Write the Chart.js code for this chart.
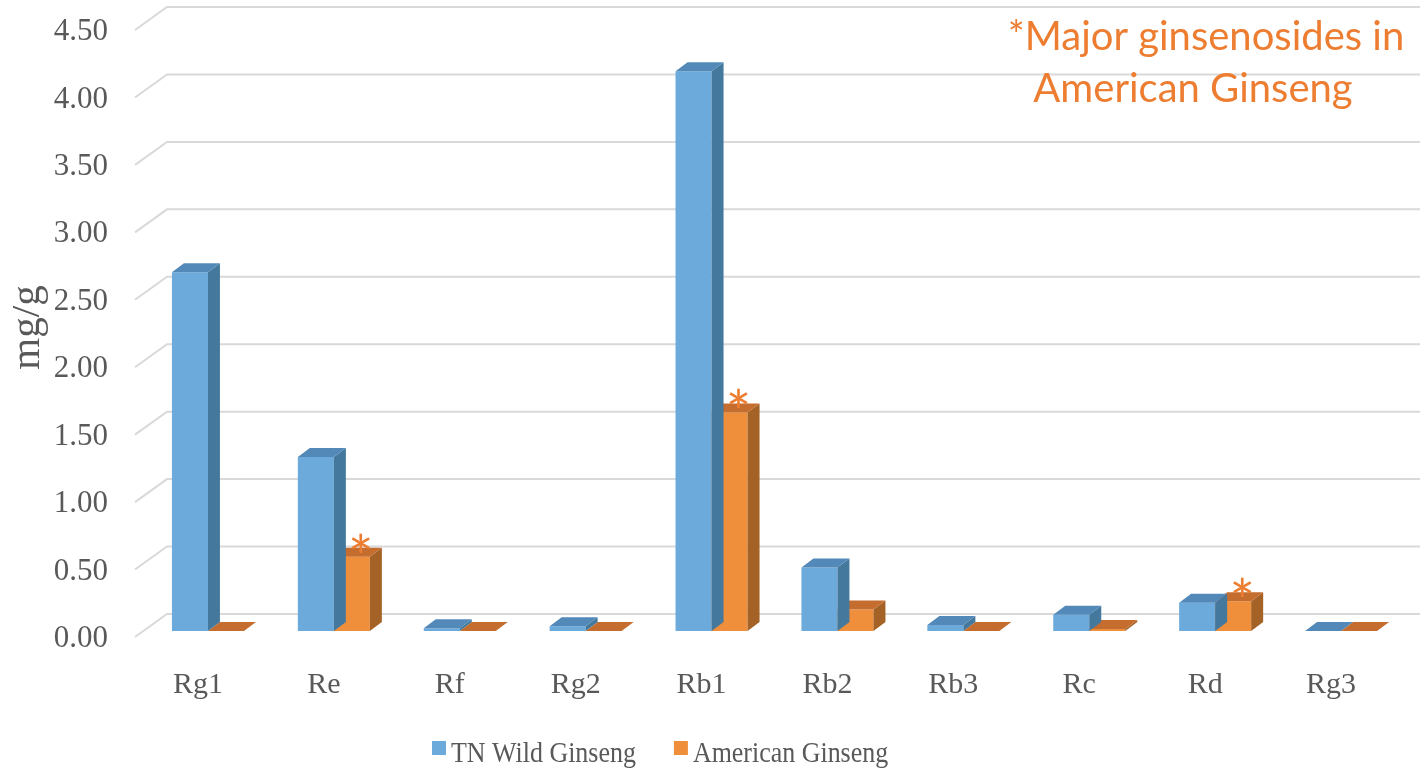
<!DOCTYPE html>
<html>
<head>
<meta charset="utf-8">
<script src="https://cdn.jsdelivr.net/npm/chart.js@4.4.1/dist/chart.umd.min.js"></script>
<style>
  html, body { margin: 0; padding: 0; background: #fff; }
  #wrap { width: 1428px; height: 768px; }
</style>
</head>
<body>
<div id="wrap"><canvas id="ginsengChart"></canvas></div>
<script>
// data (mg/g)
const categories = ['Rg1', 'Re', 'Rf', 'Rg2', 'Rb1', 'Rb2', 'Rb3', 'Rc', 'Rd', 'Rg3'];
const wildValues = [2.66, 1.29, 0.02, 0.035, 4.15, 0.47, 0.045, 0.12, 0.21, 0.00];
const americanValues = [0.00, 0.55, 0.00, 0.00, 1.62, 0.16, 0.00, 0.015, 0.22, 0.00];
const seriesNames = ['TN Wild Ginseng', 'American Ginseng'];
const majorInAmerican = ['Re', 'Rb1', 'Rd'];
const noteLines = ['*Major ginsenosides in', 'American Ginseng'];
const yTickValues = [0, 0.5, 1, 1.5, 2, 2.5, 3, 3.5, 4, 4.5];

// colours: front, top, side
const frontColors = ['#6BAADA', '#EF8F3B'];
const topColors = ['#5289B8', '#C56D2E'];
const sideColors = ['#45789D', '#A56226'];
const noteColor = '#ED7D31';
const textGray = '#595959';

// fake 3d: depth offsets in px
const barDX = 12, barDY = 9;

const depth3d = {
    id: 'depth3d',
    beforeDatasetsDraw(chart) {
        const { ctx, chartArea, scales } = chart;
        ctx.save();
        ctx.strokeStyle = '#d9d9d9';
        ctx.lineWidth = 2;
        yTickValues.forEach(v => {
            const py = scales.y.getPixelForValue(v);
            ctx.beginPath();
            ctx.moveTo(chartArea.left - 10, py + 6);
            ctx.lineTo(chartArea.left + 22, py - 17);
            ctx.lineTo(chartArea.right + 16, py - 17);
            ctx.stroke();
        });
        ctx.restore();
    },
    afterDatasetDraw(chart, args) {
        const ctx = chart.ctx;
        const i = args.index;
        ctx.save();
        args.meta.data.forEach(bar => {
            const { x, y, base, width } = bar.getProps(['x', 'y', 'base', 'width'], true);
            const l = x - width / 2, r = x + width / 2;
            // side face
            ctx.fillStyle = sideColors[i];
            ctx.beginPath();
            ctx.moveTo(r, y);
            ctx.lineTo(r + barDX, y - barDY);
            ctx.lineTo(r + barDX, base - barDY);
            ctx.lineTo(r, base);
            ctx.closePath();
            ctx.fill();
            // top face
            ctx.fillStyle = topColors[i];
            ctx.beginPath();
            ctx.moveTo(l, y);
            ctx.lineTo(r, y);
            ctx.lineTo(r + barDX, y - barDY);
            ctx.lineTo(l + barDX, y - barDY);
            ctx.closePath();
            ctx.fill();
        });
        ctx.restore();
    },
    afterDraw(chart) {
        const ctx = chart.ctx;
        ctx.save();
        // asterisks over the orange bars
        ctx.fillStyle = noteColor;
        ctx.font = '60px Lato';
        ctx.textAlign = 'center';
        ctx.textBaseline = 'alphabetic';
        const m = ctx.measureText('*');
        const meta = chart.getDatasetMeta(1);
        categories.forEach((c, k) => {
            if (!majorInAmerican.includes(c)) return;
            const bar = meta.data[k];
            ctx.fillText('*', bar.x + 9, bar.y - 4 - m.actualBoundingBoxDescent);
        });

        // note in the corner
        ctx.font = '40px Lato';
        ctx.fillText(noteLines[0], 1206, 50);
        ctx.fillText(noteLines[1], 1193, 102);

        // legend (text a bit narrower, like the original)
        ctx.font = '30px "Liberation Serif"';
        ctx.textAlign = 'left';
        let lx = 432;
        chart.data.datasets.forEach((ds, k) => {
            ctx.fillStyle = frontColors[k];
            ctx.fillRect(lx, 741, 14, 14);
            ctx.fillStyle = textGray;
            const w = ctx.measureText(ds.label).width * 0.865;
            ctx.save();
            ctx.translate(lx + 19, 762);
            ctx.scale(0.865, 1);
            ctx.fillText(ds.label, 0, 0);
            ctx.restore();
            lx += 19 + w + 38;
        });
        ctx.restore();
    }
};

const ctx = document.getElementById('ginsengChart').getContext('2d');

const ginsengChart = new Chart(ctx, {
    type: 'bar',
    data: {
        labels: categories,
        datasets: [{
            label: seriesNames[0],
            data: wildValues,
            backgroundColor: frontColors[0]
        }, {
            label: seriesNames[1],
            data: americanValues,
            backgroundColor: frontColors[1]
        }]
    },
    options: {
        responsive: true,
        maintainAspectRatio: false,
        animation: false,
        categoryPercentage: 0.572,
        barPercentage: 1,
        layout: { padding: { top: 24, right: 24, left: 0, bottom: 0 } },
        plugins: {
            legend: { display: false },
            tooltip: { enabled: false }
        },
        scales: {
            x: {
                grid: { display: false },
                border: { display: false },
                ticks: {
                    color: textGray,
                    font: { family: '"Liberation Serif"', size: 30 },
                    padding: 28,
                    labelOffset: -10
                },
                afterFit(scale) {
                    scale.height = 137;
                    scale.paddingLeft = 0;
                    scale.paddingRight = 0;
                }
            },
            y: {
                min: 0,
                max: 4.5,
                afterBuildTicks(scale) {
                    scale.ticks = yTickValues.map(v => ({ value: v }));
                },
                grid: { display: false },
                border: { display: false },
                ticks: {
                    color: textGray,
                    font: { family: '"Liberation Serif"', size: 31 },
                    padding: 29,
                    labelOffset: 8,
                    callback: v => v.toFixed(2)
                },
                title: {
                    display: true,
                    text: 'mg/g',
                    color: textGray,
                    font: { family: '"Liberation Serif"', size: 41, lineHeight: 1 },
                    padding: { top: 8, bottom: 0 }
                },
                afterFit(scale) {
                    scale.width = 145;
                    scale.paddingTop = 0;
                    scale.paddingBottom = 0;
                }
            }
        }
    },
    plugins: [depth3d]
});
</script>
</body>
</html>
